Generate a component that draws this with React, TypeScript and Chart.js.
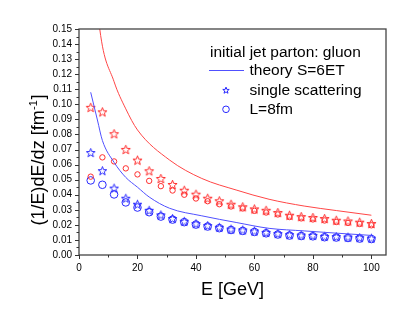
import React, { useEffect, useRef } from "react";
import { Chart, registerables } from "chart.js";
Chart.register(...registerables);

// ---- data ----
const energies = [4, 8, 12, 16, 20, 24, 28, 32, 36, 40, 44, 48, 52, 56, 60, 64, 68, 72, 76, 80, 84, 88, 92, 96, 100];
const redStars = [0.098, 0.095, 0.0805, 0.0701, 0.063, 0.0559, 0.0508, 0.0468, 0.043, 0.0404, 0.0377, 0.036, 0.0337, 0.032, 0.0306, 0.0297, 0.0282, 0.0264, 0.0255, 0.0249, 0.0242, 0.0231, 0.0226, 0.0218, 0.0209];
const redCircles = [0.052, 0.0648, 0.0621, 0.0575, 0.0535, 0.0492, 0.0457, 0.0428, 0.04, 0.0375, 0.0357, 0.0337, 0.0322, 0.0309, 0.0293, 0.0282, 0.0269, 0.0252, 0.0243, 0.0236, 0.0229, 0.0219, 0.0213, 0.0206, 0.0197];
const blueStars = [0.068, 0.056, 0.0444, 0.0377, 0.0337, 0.0297, 0.0266, 0.0242, 0.0224, 0.0208, 0.0195, 0.0184, 0.0172, 0.0166, 0.0159, 0.015, 0.0142, 0.0135, 0.0132, 0.013, 0.0124, 0.0122, 0.0119, 0.0115, 0.0112];
const blueCircles = [0.0495, 0.0466, 0.0402, 0.0349, 0.0315, 0.0284, 0.0255, 0.0235, 0.0218, 0.0202, 0.0189, 0.0178, 0.0166, 0.016, 0.0153, 0.0144, 0.0136, 0.0129, 0.0126, 0.0124, 0.0118, 0.0116, 0.0113, 0.0109, 0.0106];
const redTheoryE = [4, 7.1, 12, 16, 20, 31, 42, 54, 65, 77, 88, 100];
const redTheory = [0.22, 0.15, 0.115, 0.097, 0.083, 0.063, 0.0508, 0.043, 0.037, 0.0325, 0.0295, 0.0264];
const blueTheoryE = [4, 6.3, 8, 12, 16, 20, 24, 31, 42, 54, 65, 77, 88, 100];
const blueTheory = [0.108, 0.0896, 0.076, 0.0615, 0.0515, 0.045, 0.0385, 0.031, 0.026, 0.0215, 0.0177, 0.016, 0.0145, 0.013];
const xMajorTicks = [0, 20, 40, 60, 80, 100];
const xMinorTicks = [10, 30, 50, 70, 90];
const yMajorTicks = [0, 0.01, 0.02, 0.03, 0.04, 0.05, 0.06, 0.07, 0.08, 0.09, 0.1, 0.11, 0.12, 0.13, 0.14, 0.15];
const yMinorTicks = [0.005, 0.015, 0.025, 0.035, 0.045, 0.055, 0.065, 0.075, 0.085, 0.095, 0.105, 0.115, 0.125, 0.135, 0.145];
const legendTitle = "initial jet parton: gluon";
const legendLabels = ["theory S=6ET", "single scattering", "L=8fm"];
const xTitle = "E [GeV]";

const RED = "rgb(255,45,45)";
const RED_LINE = "rgb(255,70,70)";
const BLUE = "rgb(40,40,255)";
const BLUE_LINE = "rgb(80,80,255)";
const FONT = "'Liberation Sans', Arial, sans-serif";

function makeStar(color: string, outer: number, inner: number) {
  const size = Math.ceil(outer * 2 + 3);
  const c = document.createElement("canvas");
  c.width = size;
  c.height = size;
  const g = c.getContext("2d")!;
  const cx = size / 2;
  const cy = size / 2 + 0.5;
  g.beginPath();
  for (let i = 0; i < 10; i++) {
    const r = i % 2 === 0 ? outer : inner;
    const ang = -Math.PI / 2 + (i * Math.PI) / 5;
    const x = cx + r * Math.cos(ang);
    const y = cy + r * Math.sin(ang);
    if (i === 0) g.moveTo(x, y);
    else g.lineTo(x, y);
  }
  g.closePath();
  g.strokeStyle = color;
  g.lineWidth = 1;
  g.stroke();
  return c;
}

const pts = (xs: number[], ys: number[]) => xs.map((x, i) => ({ x, y: ys[i] }));

export default function App() {
  const ref = useRef<HTMLCanvasElement | null>(null);
  useEffect(() => {
    if (!ref.current) return;
    const redStar = makeStar(RED, 4.8, 2.0);
    const blueStar = makeStar(BLUE, 4.6, 1.9);
    const legendStar = makeStar(BLUE, 3.4, 1.4);

    const decor = {
      id: "decor",
      afterDraw(chart: any) {
        const { ctx, chartArea: a, scales } = chart;
        const xs = scales.x;
        const ys = scales.y;
        ctx.save();
        // frame
        ctx.strokeStyle = "#444";
        ctx.lineWidth = 1.3;
        ctx.strokeRect(a.left, a.top, a.right - a.left, a.bottom - a.top);
        // ticks
        ctx.lineWidth = 1;
        ctx.strokeStyle = "#333";
        ctx.beginPath();
        for (const v of xMajorTicks) {
          const p = Math.round(xs.getPixelForValue(v)) + 0.5;
          ctx.moveTo(p, a.bottom);
          ctx.lineTo(p, a.bottom + 4);
        }
        for (const v of xMinorTicks) {
          const p = Math.round(xs.getPixelForValue(v)) + 0.5;
          ctx.moveTo(p, a.bottom);
          ctx.lineTo(p, a.bottom + 2.5);
        }
        for (const v of yMajorTicks) {
          const p = Math.round(ys.getPixelForValue(v)) + 0.5;
          ctx.moveTo(a.left, p);
          ctx.lineTo(a.left - 4, p);
        }
        for (const v of yMinorTicks) {
          const p = Math.round(ys.getPixelForValue(v)) + 0.5;
          ctx.moveTo(a.left, p);
          ctx.lineTo(a.left - 2.5, p);
        }
        ctx.stroke();

        // x title
        ctx.fillStyle = "#000";
        ctx.font = `18px ${FONT}`;
        ctx.textAlign = "center";
        ctx.textBaseline = "alphabetic";
        ctx.fillText(xTitle, (a.left + a.right) / 2, 295);

        // y title with superscript
        ctx.save();
        ctx.translate(44, 160);
        ctx.rotate(-Math.PI / 2);
        const big = `18px ${FONT}`;
        const small = `11px ${FONT}`;
        const p1 = "(1/E)dE/dz [fm";
        const sup = "-1";
        const p3 = "]";
        ctx.font = big;
        const w1 = ctx.measureText(p1).width;
        const w3 = ctx.measureText(p3).width;
        ctx.font = small;
        const w2 = ctx.measureText(sup).width + 1;
        const total = w1 + w2 + w3;
        const x0 = -total / 2;
        ctx.textAlign = "left";
        ctx.font = big;
        ctx.fillText(p1, x0, 0);
        ctx.font = small;
        ctx.fillText(sup, x0 + w1 + 0.5, -7);
        ctx.font = big;
        ctx.fillText(p3, x0 + w1 + w2, 0);
        ctx.restore();

        // legend
        ctx.font = `15.5px ${FONT}`;
        ctx.textAlign = "left";
        ctx.fillStyle = "#000";
        ctx.fillText(legendTitle, 210, 56.5);
        ctx.fillText(legendLabels[0], 249.5, 75);
        ctx.fillText(legendLabels[1], 249.5, 95);
        ctx.fillText(legendLabels[2], 249.5, 113.5);
        ctx.strokeStyle = BLUE_LINE;
        ctx.lineWidth = 1;
        ctx.beginPath();
        ctx.moveTo(209, 70.5);
        ctx.lineTo(244, 70.5);
        ctx.stroke();
        ctx.drawImage(legendStar, 226 - legendStar.width / 2, 90 - legendStar.height / 2);
        ctx.strokeStyle = BLUE;
        ctx.beginPath();
        ctx.arc(226, 109.3, 3.3, 0, Math.PI * 2);
        ctx.stroke();
        ctx.restore();
      },
    };

    const chart = new Chart(ref.current, {
      type: "scatter",
      data: {
        datasets: [
          {
            type: "line",
            data: pts(redTheoryE, redTheory),
            borderColor: RED_LINE,
            borderWidth: 1,
            pointRadius: 0,
            cubicInterpolationMode: "monotone",
            fill: false,
          },
          {
            type: "line",
            data: pts(blueTheoryE, blueTheory),
            borderColor: BLUE_LINE,
            borderWidth: 1,
            pointRadius: 0,
            cubicInterpolationMode: "monotone",
            fill: false,
          },
          {
            data: pts(energies, redCircles),
            pointStyle: "circle",
            pointRadius: 2.7,
            borderColor: RED,
            backgroundColor: "transparent",
            borderWidth: 1,
          },
          {
            data: pts(energies, redStars),
            pointStyle: redStar,
            borderColor: RED,
            backgroundColor: "transparent",
          },
          {
            data: pts(energies, blueCircles),
            pointStyle: "circle",
            pointRadius: 3.8,
            borderColor: BLUE,
            backgroundColor: "transparent",
            borderWidth: 1,
          },
          {
            data: pts(energies, blueStars),
            pointStyle: blueStar,
            borderColor: BLUE,
            backgroundColor: "transparent",
          },
        ] as any,
      },
      options: {
        animation: false,
        responsive: false,
        devicePixelRatio: 1,
        layout: { padding: { left: 0, top: 29, right: 23, bottom: 0 } },
        plugins: { legend: { display: false }, tooltip: { enabled: false } },
        events: [],
        scales: {
          x: {
            type: "linear",
            min: 0,
            max: 105,
            afterFit: (s: any) => {
              s.height = 66;
            },
            grid: { display: false, drawTicks: false },
            border: { display: false },
            ticks: {
              stepSize: 20,
              includeBounds: false,
              autoSkip: false,
              maxRotation: 0,
              padding: 7,
              color: "#000",
              font: { family: FONT, size: 10 },
              callback: (v: any) => String(v),
            },
          },
          y: {
            type: "linear",
            min: 0,
            max: 0.15,
            afterFit: (s: any) => {
              s.width = 79;
            },
            grid: { display: false, drawTicks: false },
            border: { display: false },
            ticks: {
              stepSize: 0.01,
              autoSkip: false,
              padding: 7,
              color: "#000",
              font: { family: FONT, size: 10 },
              callback: (v: any) => Number(v).toFixed(2),
            },
          },
        },
      } as any,
      plugins: [decor],
    });
    return () => chart.destroy();
  }, []);
  return (
    <div style={{ position: "fixed", left: 0, top: 0, width: 409, height: 321, background: "#fff" }}>
      <canvas ref={ref} width={409} height={321} style={{ width: 409, height: 321 }} />
    </div>
  );
}
